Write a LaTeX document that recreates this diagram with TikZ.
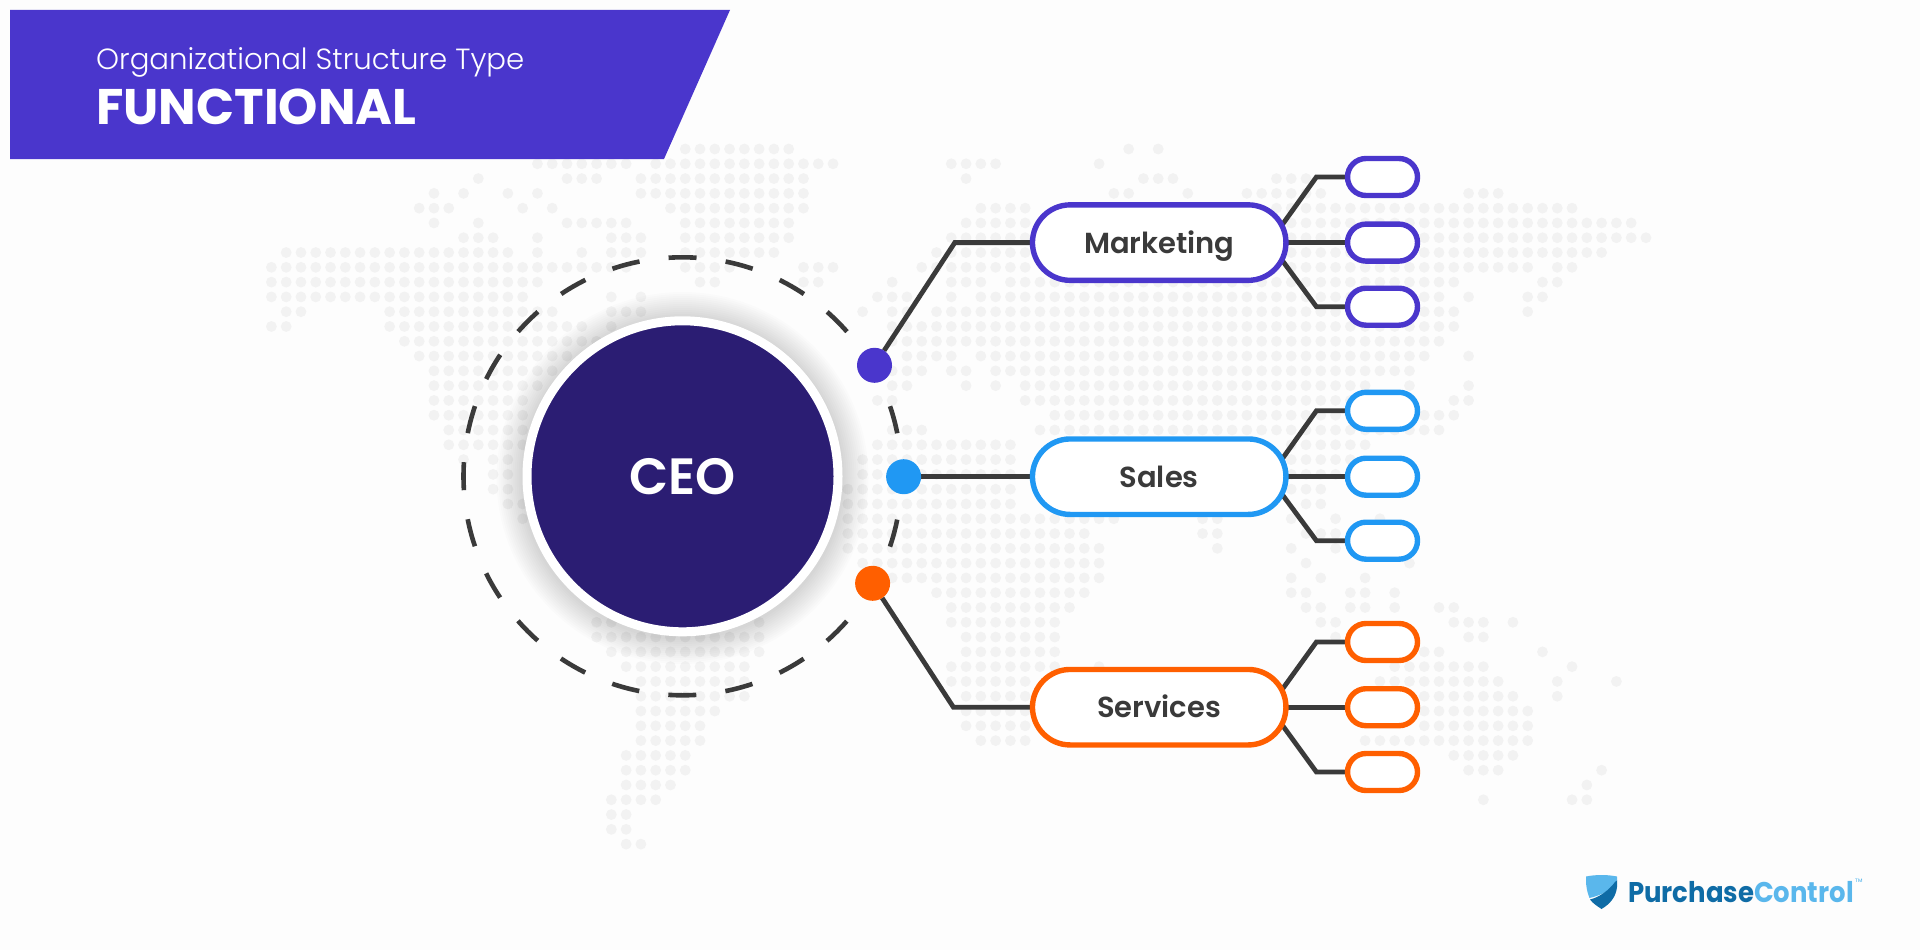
\documentclass[tikz,border=0pt]{standalone}
\usepackage{fontspec}
\usetikzlibrary{shapes.misc,backgrounds}
\setmainfont{Poppins}
\newfontfamily\plight{Poppins Light}
\newfontfamily\pmed{Poppins Medium}
\newfontfamily\psemi{Poppins SemiBold}
\newfontfamily\pbold{Poppins Bold}
\definecolor{violetc}{HTML}{4A36CC}
\definecolor{navyc}{HTML}{2B1D73}
\definecolor{bluec}{HTML}{2098F3}
\definecolor{orangec}{HTML}{FF5F00}
\definecolor{inkc}{HTML}{3A3A3A}
\definecolor{dotc}{HTML}{F2F2F2}
\definecolor{bgc}{HTML}{FDFDFD}
\definecolor{logodark}{HTML}{0F6CA6}
\definecolor{logolight}{HTML}{5AB7EC}
\tikzset{
  dept/.style={rounded rectangle,draw=#1,line width=5.4pt,fill=white,minimum width=253.5pt,minimum height=75.5pt,inner sep=0pt,outer sep=0pt,text=inkc,text height=26pt,text depth=5pt,font=\psemi\fontsize{29}{29}\selectfont},
  leaf/.style={rounded rectangle,draw=#1,line width=5.4pt,fill=white,minimum width=70pt,minimum height=37pt,inner sep=0pt,outer sep=0pt},
  hub/.style={circle,fill=#1,minimum size=35pt,inner sep=0pt,outer sep=0pt},
  cn/.style={draw=inkc,line width=4.8pt,line join=miter},
}
\begin{document}
\begin{tikzpicture}[x=1pt,y=-1pt]
\useasboundingbox (0,0) rectangle (1920,950);
% banner and titles
\fill[violetc] (10,10) -- (730,10) -- (664,159) -- (10,159) -- cycle;
\node[anchor=base west,text=white,inner sep=0pt,font=\plight\fontsize{29.2}{29.2}\selectfont] (ttl) at (96,70) {Organizational Structure Type};
\node[anchor=base west,text=white,inner sep=0pt,font=\pbold\fontsize{50}{50}\selectfont] (fn) at (96,124) {FUNCTIONAL};
% ring and CEO
\draw[inkc,line width=4.6pt,dash pattern=on 28pt off 29.33pt,dash phase=14pt] (682.5,476.3) circle[radius=219pt];
\node[circle,fill=navyc,draw=white,line width=9pt,minimum size=311pt,inner sep=0pt,text=white,font=\psemi\fontsize{51}{51}\selectfont] (ceo) at (682.5,476.3) {CEO};
% hubs
\node[hub=violetc] (hm) at (874.5,365.3) {};
\node[hub=bluec] (hs) at (903.6,476.7) {};
\node[hub=orangec] (hv) at (872.6,583.3) {};
% departments
\node[dept=violetc] (mk) at (1159.2,242.6) {Marketing};
\node[dept=bluec] (sl) at (1159.2,476.7) {Sales};
\node[dept=orangec] (sv) at (1159.2,707.2) {Services};
% leaves
\node[leaf=violetc] (m1) at (1382.5,177) {};
\node[leaf=violetc] (m2) at (1382.5,242.6) {};
\node[leaf=violetc] (m3) at (1382.5,306.7) {};
\node[leaf=bluec] (s1) at (1382.5,410.8) {};
\node[leaf=bluec] (s2) at (1382.5,476.7) {};
\node[leaf=bluec] (s3) at (1382.5,540.7) {};
\node[leaf=orangec] (v1) at (1382.5,642) {};
\node[leaf=orangec] (v2) at (1382.5,707.2) {};
\node[leaf=orangec] (v3) at (1382.5,772) {};
% elbows
\coordinate (em) at (954.8,242.6);
\coordinate (ev) at (953.4,707.2);
\coordinate (em1) at (1316.4,177);
\coordinate (em3) at (1316.4,306.7);
\coordinate (es1) at (1316.4,410.8);
\coordinate (es3) at (1316.4,540.7);
\coordinate (ev1) at (1316.4,642);
\coordinate (ev3) at (1316.4,772);
% logo
\node[anchor=base west,inner sep=0pt,font=\pbold\fontsize{28.5}{28.5}\selectfont] (logo) at (1628,902) {\scalebox{0.91}[1]{\textcolor{logodark}{Purchase}\textcolor{logolight}{Control}}};
\node[anchor=west,inner sep=0pt,text=logolight,font=\pmed\fontsize{5}{5}\selectfont] (tm) at (1855,881) {TM};
\fill[logolight] (1586,876.5) .. controls (1596,874.5) and (1607,874.5) .. (1617,876.5) -- (1617,880) .. controls (1612,890) and (1602,895) .. (1589.5,898) .. controls (1587,892) and (1586,886) .. (1586,880) -- cycle;
\fill[logodark] (1615,882) .. controls (1617,881) and (1617,880) .. (1617,880) -- (1617,887) .. controls (1616,897) and (1610,904) .. (1601.5,909) .. controls (1597,906) and (1593,903.5) .. (1590,899.5) .. controls (1600,897) and (1609,890) .. (1615,882) -- cycle;
\begin{scope}[on background layer]
\fill[bgc] (0,0) rectangle (1920,950);
\foreach \rr/\segs in {
0/{28/35,58,60},
1/{18/24,26/38,46/49,56},
2/{14,20/22,25/36,47,59/61,68/70},
3/{11,13,16,18,25/36,57,58,62,66/71,81/83},
4/{10/12,17,19,27/36,48/51,68/88},
5/{11,14,20/24,28/35,47/51,69/92},
6/{13/15,18,23/25,28/35,46/51,69/93},
7/{1/16,18,21,23/25,28/34,45/51,69/90},
8/{0/24,28/31,36/38,44/51,69/85,87,88},
9/{0/18,29,30,36,37,42,46/48,50/80,86,87},
10/{0/17,23,25,41/43,46,48/79,81,85,86},
11/{1,2,8/19,23/25,40,42,43,45/80,85},
12/{0,1,8/21,23,42/80},
13/{9/22,42/79},
14/{10/20,43/46,48/78,81},
15/{11/19,42/44,46,47,49/77},
16/{11/18,42,43,47,49,51/74,77,81},
17/{11/17,41,42,51/73,80,81},
18/{11/17,53/80},
19/{12/17,42/44,52/79},
20/{12/17,41/50,69/74},
21/{13,15,16,40/50,69/73},
22/{15,16,40/50,69/72},
23/{15,16,39/50,69/71},
24/{16,17,39/50,70,71},
25/{17,39/57,63,64,69,72,75},
26/{39/55,63,64,70/72},
27/{39/56,64,69,72},
28/{40/56,70,77},
29/{40/56,69,71,74},
30/{45/55,69,70,73,74,76},
31/{46/54,70,71,73,74,76,79,80},
32/{22,23,33,46/53,71,72,80/82,84},
33/{22/33,47/53,72,81,82},
34/{23/33,47/53,78,79,86},
35/{24/32,46/53,56,76/82,88},
36/{25/32,46/51,75/83,87,91},
37/{25/32,47/51,78/84,87},
38/{25/30,47/51,78/85},
39/{25/29,47/51,78/85},
40/{25/29,48/51,74/85},
41/{24/28,80/84},
42/{24/28,81/83,90},
43/{24/27,89},
44/{23/26,82,88,89},
45/{23,24},
46/{23,24},
47/{24,25}}{
  \foreach \aa/\bb in \segs {
    \foreach \cc in {\aa,...,\bb} {
      \fill[dotc] ({271.4+14.78*\cc},{149+14.79*\rr}) circle[radius=5.4pt];
    }
  }
}
\foreach \s in {162,164,...,186} {
  \fill[black,opacity=.012] (682.5,478) circle[radius=\s pt];
}
\draw[cn] (hm) -- (em) -- (mk.west);
\draw[cn] (hs) -- (sl.west);
\draw[cn] (hv) -- (ev) -- (sv.west);
\draw[cn] (mk.8) -- (em1) -- (m1.west);
\draw[cn] (mk.east) -- (m2.west);
\draw[cn] (mk.-8) -- (em3) -- (m3.west);
\draw[cn] (sl.8) -- (es1) -- (s1.west);
\draw[cn] (sl.east) -- (s2.west);
\draw[cn] (sl.-8) -- (es3) -- (s3.west);
\draw[cn] (sv.8) -- (ev1) -- (v1.west);
\draw[cn] (sv.east) -- (v2.west);
\draw[cn] (sv.-8) -- (ev3) -- (v3.west);
\end{scope}
\end{tikzpicture}
\end{document}
